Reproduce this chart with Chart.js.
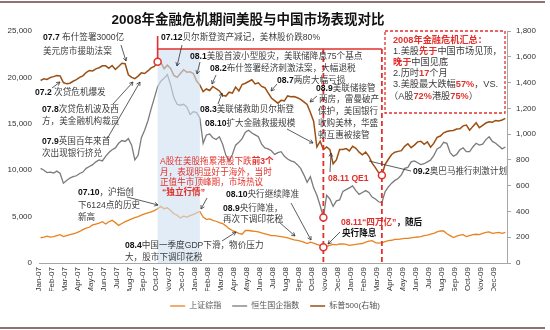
<!DOCTYPE html>
<html>
<head>
<meta charset="utf-8">
<script src="https://cdn.jsdelivr.net/npm/chart.js@4.4.1/dist/chart.umd.min.js"></script>
<style>
  html, body { margin: 0; padding: 0; background: #fff; }
  canvas { display: block; }
</style>
</head>
<body>
<canvas id="chart" width="550" height="330"></canvas>
<script>
// month tick labels (x axis), one per month
const MONTHS = [
  'Jan-07','Feb-07','Mar-07','Apr-07','May-07','Jun-07','Jul-07','Aug-07','Sep-07','Oct-07','Nov-07','Dec-07',
  'Jan-08','Feb-08','Mar-08','Apr-08','May-08','Jun-08','Jul-08','Aug-08','Sep-08','Oct-08','Nov-08','Dec-08',
  'Jan-09','Feb-09','Mar-09','Apr-09','May-09','Jun-09','Jul-09','Aug-09','Sep-09','Oct-09','Nov-09','Dec-09'
];
const SERIES_NAMES = ['上证综指', '恒生国企指数', '标普500(右轴)'];

// weekly closes, 4 per month
const sse = [
  2720, 2800, 2900, 2790,   2850, 2950, 3050, 2850,   2950, 3050, 3150, 3250,
  3400, 3600, 3750, 3850,   4100, 4200, 4300, 4450,   4200, 4450, 4600, 4350,
  4050, 4250, 4450, 4600,   4750, 4900, 5000, 5150,   5300, 5400, 5500, 5650,
  5850, 6100, 5850, 5950,   5650, 5300, 5150, 4850,   5050, 4950, 5100, 5250,
  5400, 5550, 4950, 4700,   4750, 4600, 4500, 4350,   4250, 4000, 3700, 3500,
  3350, 3200, 3100, 3500,   3500, 3450, 3400, 3350,   3250, 3150, 3050, 2950,
  2950, 2900, 2850, 2800,   2700, 2600, 2500, 2450,   2350, 2250, 2100, 2250,
  2150, 2000, 1900, 1700,   1800, 1900, 2000, 1950,   2050, 2050, 2000, 1900,
  1950, 2000, 2050, 2100,   2250, 2350, 2400, 2200,   2150, 2200, 2300, 2400,
  2450, 2550, 2550, 2600,   2650, 2650, 2700, 2750,   2800, 2850, 2950, 3000,
  3100, 3200, 3350, 3450,   3450, 3150, 2950, 2750,   2900, 3000, 3050, 2850,
  2950, 3050, 3100, 3050,   3200, 3300, 3350, 3200,   3250, 3300, 3200, 3300
];
const hscei = [
  10200, 10000, 9750, 9800,   9700, 9900, 9650, 8600,     8900, 9150, 9300, 9400,
  9650, 9800, 10200, 10400,   10600, 10900, 11100, 11000, 11500, 11900, 12200, 12400,
  12900, 13200, 13100, 13400, 12700, 11100, 11600, 13500, 14300, 15300, 16600, 17800,
  19000, 19600, 19900, 20300, 19200, 17800, 17100, 17000, 17100, 16800, 16000, 16300,
  16200, 15600, 12900, 13800, 13900, 13500, 13300, 13600, 12800, 11600, 11000, 11700,
  12700, 13000, 13400, 14100, 14300, 14000, 13800, 13600, 12800, 12400, 12300, 12100,
  11700, 11900, 12000, 11500, 11200, 11000, 10900, 10600, 10200, 9500, 8700, 9300,
  8100, 7300, 6200, 4900,     7300, 6900, 6100, 6700,     6800, 7700, 7900, 8100,
  8300, 7800, 7400, 7600,     7800, 7600, 7100, 6900,     6600, 6500, 7700, 8200,
  8600, 8900, 9100, 9500,     10200, 10300, 10900, 11000, 10800, 10600, 10700, 10900,
  11100, 11600, 12300, 12500, 13000, 12900, 11900, 11500, 11700, 12200, 12400, 12000,
  12000, 12500, 12900, 12700, 12800, 13300, 13600, 13100, 12900, 12600, 12300, 12500
];
const spx = [
  1416, 1430, 1424, 1440,   1446, 1455, 1452, 1400,   1390, 1395, 1410, 1422,
  1440, 1452, 1478, 1494,   1490, 1506, 1515, 1530,   1530, 1510, 1532, 1502,
  1525, 1550, 1546, 1460,   1440, 1430, 1450, 1475,   1470, 1490, 1514, 1526,
  1561, 1555, 1508, 1535,   1510, 1455, 1440, 1470,   1500, 1480, 1484, 1470,
  1412, 1380, 1330, 1350,   1338, 1370, 1352, 1335,   1300, 1295, 1325, 1318,
  1365, 1335, 1385, 1395,   1408, 1422, 1390, 1398,   1370, 1360, 1320, 1280,
  1260, 1240, 1262, 1258,   1296, 1290, 1292, 1282,   1270, 1250, 1230, 1168,
  1100, 900, 945, 880,      900, 880, 770, 800,       880, 880, 888, 870,
  905, 890, 860, 840,       860, 828, 775, 740,       700, 680, 765, 805,
  842, 860, 866, 872,       905, 925, 895, 915,       940, 945, 921, 940,
  898, 930, 975, 985,       1010, 1020, 1026, 1028,   1040, 1042, 1064, 1070,
  1030, 1060, 1088, 1050,   1068, 1086, 1096, 1092,   1106, 1102, 1110, 1122
];

const WEEKS_PER_MONTH = 4;
const weekX = i => (i + 0.5) / WEEKS_PER_MONTH;
const toPoints = arr => arr.map((v, i) => ({ x: weekX(i), y: v }));

// key points used by the red markers and the shaded window
const spxPeak = spx.indexOf(Math.max(...spx));
const spxLow = spx.indexOf(Math.min(...spx));
const hsLow = hscei.indexOf(Math.min(...hscei));
const sseLow = sse.indexOf(Math.min(...sse));
const jan08 = MONTHS.indexOf('Jan-08') * WEEKS_PER_MONTH;
const jan08Slice = sse.slice(jan08, jan08 + WEEKS_PER_MONTH);
const sseJanHigh = jan08 + jan08Slice.indexOf(Math.max(...jan08Slice));

const FONT = "'Liberation Sans', 'Noto Sans CJK SC', sans-serif";
const RED = '#e2312c';
const TXT = '#3c3c3c';

Chart.defaults.font.family = FONT;
Chart.defaults.color = '#333';

// annotation texts: [x, y, [[text, style], ...]]  style: '' plain, 'b' bold, 'r' red, 'rb' red bold
const NOTES = [
  [43, 38, [['07.7 ', 'b'], ['布什签署3000亿', '']]],
  [43, 52, [['美元房市援助法案', '']]],
  [35, 93, [['07.2 ', 'b'], ['次贷危机爆发', '']]],
  [42, 110, [['07.8', 'b'], ['次贷危机波及西', '']]],
  [42, 122, [['方，美金融机构裁员', '']]],
  [42, 142, [['07.9', 'b'], ['英国百年来首', '']]],
  [42, 154, [['次出现银行挤兑', '']]],
  [161, 38, [['07.12', 'b'], ['贝尔斯登资产减记，美林股价跌80%', '']]],
  [190, 57, [['08.1', 'b'], ['美股首波小型股灾，美联储降息75个基点', '']]],
  [210, 69, [['08.2', 'b'], ['布什签署经济刺激法案，大幅退税', '']]],
  [277, 81, [['08.7', 'b'], ['两房大幅亏损', '']]],
  [200, 110, [['08.3', 'b'], ['美联储救助贝尔斯登', '']]],
  [205, 124, [['08.10', 'b'], ['扩大金融救援规模', '']]],
  [316, 89, [['08.9', 'b'], ['美联储接管', '']]],
  [319, 100, [['两房，雷曼破产', '']]],
  [318, 112, [['保护，美国银行', '']]],
  [318, 124, [['收购美林，华盛', '']]],
  [318, 136, [['顿互惠被接管', '']]],
  [160, 162, [['A股在美股拖累港股下跌', 'r'], ['前3个', 'rb']]],
  [160, 173, [['月，表现明显好于海外，当时', 'r']]],
  [160, 183, [['正值牛市顶峰期，市场热议', 'r']]],
  [162, 193, [['“独立行情”', 'rb']]],
  [78, 193, [['07.10', 'b'], ['，沪指创', '']]],
  [78, 206, [['下6124点的历史', '']]],
  [78, 218, [['新高', '']]],
  [226, 195, [['08.10', 'b'], ['央行继续降准', '']]],
  [223, 209, [['08.9', 'b'], ['央行降准，', '']]],
  [223, 220, [['再次下调印花税', '']]],
  [125, 246, [['08.4', 'b'], ['中国一季度GDP下滑，物价压力', '']]],
  [125, 258, [['大，股市下调印花税', '']]],
  [328, 179, [['08.11 QE1', 'rb']]],
  [341, 223, [['08.11“四万亿”', 'rb'], ['，随后', 'b']]],
  [342, 234, [['央行降息', 'b']]],
  [413, 172, [['09.2', 'b'], ['奥巴马推行刺激计划', '']]]
];

// arrows: [x1, y1, x2, y2, head]
const ARROWS = [
  [121, 45, 126, 61, 1], [52, 88, 60, 82, 1], [113, 104, 133, 82, 1], [107, 139, 140, 82, 1],
  [182, 45, 177, 66, 1], [200, 62, 197, 74, 1], [216, 75, 212, 84, 1], [218, 104, 222, 93, 1],
  [277, 84, 271, 91, 1], [317, 96, 310, 102, 1], [287, 129, 313, 143, 1], [330, 172, 331, 153, 1],
  [127, 197, 158, 205, 1], [207, 198, 201, 209, 1], [291, 203, 311, 240, 1], [279, 222, 295, 236, 1],
  [222, 241, 236, 232, 1], [340, 232, 328, 244, 1], [411, 171, 369, 161, 0]
];

const SUMMARY = [
  [393, 40, [['2008年金融危机汇总：', 'rb']]],
  [393, 51, [['1.美股', ''], ['先于', 'rb'], ['中国市场见顶，', '']]],
  [393, 62, [['晚于', 'rb'], ['中国见底', '']]],
  [393, 73, [['2.历时', ''], ['17', 'rb'], ['个月', '']]],
  [393, 84, [['3.美股最大跌幅', ''], ['57%', 'rb'], ['，VS.', '']]],
  [389, 96, [['（A股', ''], ['72%', 'rb'], ['港股', ''], ['75%', 'rb'], ['）', '']]]
];

function drawRuns(ctx, x, y, parts, size) {
  let cx = x;
  for (const [t, s] of parts) {
    ctx.font = (s.includes('b') ? 'bold ' : '') + size + 'px ' + FONT;
    ctx.fillStyle = s.includes('r') ? RED : (s === 'b' ? '#111' : TXT);
    ctx.fillText(t, cx, y);
    cx += ctx.measureText(t).width;
  }
}

function drawArrow(ctx, x1, y1, x2, y2, head) {
  ctx.beginPath();
  ctx.moveTo(x1, y1);
  ctx.lineTo(x2, y2);
  ctx.stroke();
  if (!head) return;
  const a = Math.atan2(y2 - y1, x2 - x1), L = 4;
  ctx.beginPath();
  ctx.moveTo(x2 - L * Math.cos(a - 0.5), y2 - L * Math.sin(a - 0.5));
  ctx.lineTo(x2, y2);
  ctx.lineTo(x2 - L * Math.cos(a + 0.5), y2 - L * Math.sin(a + 0.5));
  ctx.stroke();
}

const BRACKET_Y = 49;

const overlay = {
  id: 'overlay',
  afterDatasetDraw(chart, args) {
    if (args.index !== 2) return; // right after the S&P line, before markers
    const { ctx, chartArea: a, scales: { x, y1 } } = chart;
    const xPeak = x.getPixelForValue(weekX(spxPeak));
    const xEnd = x.getPixelForValue(weekX(sseJanHigh));
    const xHs = x.getPixelForValue(weekX(hsLow));
    const xSpx = x.getPixelForValue(weekX(spxLow));
    ctx.save();
    ctx.fillStyle = 'rgba(206,224,241,0.62)';
    ctx.fillRect(xPeak, BRACKET_Y, xEnd - xPeak, a.bottom - BRACKET_Y);

    ctx.strokeStyle = RED;
    ctx.lineWidth = 1.6;
    ctx.beginPath();
    ctx.moveTo(xPeak, 36);
    ctx.lineTo(xPeak, y1.getPixelForValue(spx[spxPeak]) - 3);
    ctx.moveTo(xPeak, BRACKET_Y);
    ctx.lineTo(xSpx, BRACKET_Y);
    ctx.stroke();

    ctx.setLineDash([5, 3]);
    ctx.lineWidth = 1.8;
    ctx.beginPath();
    ctx.moveTo(xHs, BRACKET_Y);
    ctx.lineTo(xHs, a.bottom);
    ctx.moveTo(xSpx, BRACKET_Y);
    ctx.lineTo(xSpx, a.bottom);
    ctx.stroke();
    ctx.restore();
  },
  afterDraw(chart) {
    const { ctx } = chart;
    ctx.save();
    // frame lines
    ctx.strokeStyle = '#8d7373';
    ctx.lineWidth = 2;
    ctx.beginPath();
    ctx.moveTo(0, 2); ctx.lineTo(545, 2);
    ctx.moveTo(0, 328); ctx.lineTo(545, 328);
    ctx.stroke();

    // title
    ctx.textBaseline = 'middle';
    ctx.textAlign = 'center';
    ctx.fillStyle = '#111';
    ctx.font = 'bold 13.5px ' + FONT;
    ctx.fillText('2008年金融危机期间美股与中国市场表现对比', 248, 20);

    ctx.textAlign = 'left';
    // arrows
    ctx.strokeStyle = '#333';
    ctx.lineWidth = 0.8;
    ARROWS.forEach(([x1, y1, x2, y2, h]) => drawArrow(ctx, x1, y1, x2, y2, h));
    NOTES.forEach(([x, y, parts]) => drawRuns(ctx, x, y, parts, 8.6));

    // summary box
    ctx.fillStyle = '#fff';
    ctx.fillRect(385, 31, 120, 82);
    ctx.strokeStyle = RED;
    ctx.lineWidth = 1.3;
    ctx.setLineDash([3, 2]);
    ctx.strokeRect(385, 31, 120, 82);
    ctx.setLineDash([]);
    SUMMARY.forEach(([x, y, parts]) => drawRuns(ctx, x, y, parts, 9.2));
    ctx.restore();
  }
};

const lineStyle = (color, width, order) => ({
  borderColor: color, backgroundColor: color, borderWidth: width,
  pointRadius: 0, tension: 0, fill: false, order
});
const markerStyle = {
  showLine: false, pointRadius: 3.5, pointBorderWidth: 1.5,
  pointBorderColor: RED, pointBackgroundColor: '#fff', borderColor: RED, order: 0
};

new Chart(document.getElementById('chart'), {
  type: 'line',
  data: {
    datasets: [
      { label: SERIES_NAMES[0], data: toPoints(sse), yAxisID: 'y', ...lineStyle('#e8821e', 1.3, 3) },
      { label: SERIES_NAMES[1], data: toPoints(hscei), yAxisID: 'y', ...lineStyle('#7b7b7b', 1.3, 2) },
      { label: SERIES_NAMES[2], data: toPoints(spx), yAxisID: 'y1', ...lineStyle('#9b4f14', 1.5, 1) },
      { label: 'lows', yAxisID: 'y', ...markerStyle,
        data: [{ x: weekX(hsLow), y: hscei[hsLow] }, { x: weekX(sseLow), y: sse[sseLow] }] },
      { label: 'spx', yAxisID: 'y1', ...markerStyle,
        data: [{ x: weekX(spxPeak), y: spx[spxPeak] }, { x: weekX(spxLow), y: spx[spxLow] }] }
    ]
  },
  options: {
    responsive: false,
    animation: false,
    devicePixelRatio: 1,
    layout: { padding: { left: 0, right: 0, top: 31, bottom: 10 } },
    plugins: {
      title: { display: false },
      tooltip: { enabled: false },
      legend: {
        position: 'bottom',
        labels: {
          usePointStyle: true, pointStyle: 'line', pointStyleWidth: 15,
          padding: 11, color: '#555', font: { size: 8 },
          filter: item => item.datasetIndex < 3,
          sort: (a, b) => a.datasetIndex - b.datasetIndex
        }
      }
    },
    scales: {
      x: {
        type: 'linear', min: 0, max: MONTHS.length,
        grid: { display: false, drawTicks: false },
        border: { display: true, color: '#a6a6a6' },
        afterFit: s => { s.height = 28; },
        ticks: {
          stepSize: 1, autoSkip: false, minRotation: 90, maxRotation: 90, padding: 4,
          font: { size: 8 }, color: '#333',
          callback: v => MONTHS[v] || ''
        }
      },
      y: {
        position: 'left', min: 0, max: 25000,
        grid: { display: false, drawTicks: false },
        border: { display: false },
        afterFit: s => { s.width = 39; },
        ticks: { stepSize: 5000, padding: 7, font: { size: 8 }, color: '#333',
          callback: v => v.toLocaleString('en-US') }
      },
      y1: {
        position: 'right', min: 0, max: 1800,
        grid: { drawOnChartArea: false, drawTicks: true, tickLength: 4, color: '#a6a6a6' },
        border: { display: true, color: '#a6a6a6' },
        afterFit: s => { s.width = 43; },
        ticks: { stepSize: 200, padding: 5, font: { size: 8 }, color: '#333',
          callback: v => v.toLocaleString('en-US') }
      }
    }
  },
  plugins: [overlay]
});
</script>
</body>
</html>
